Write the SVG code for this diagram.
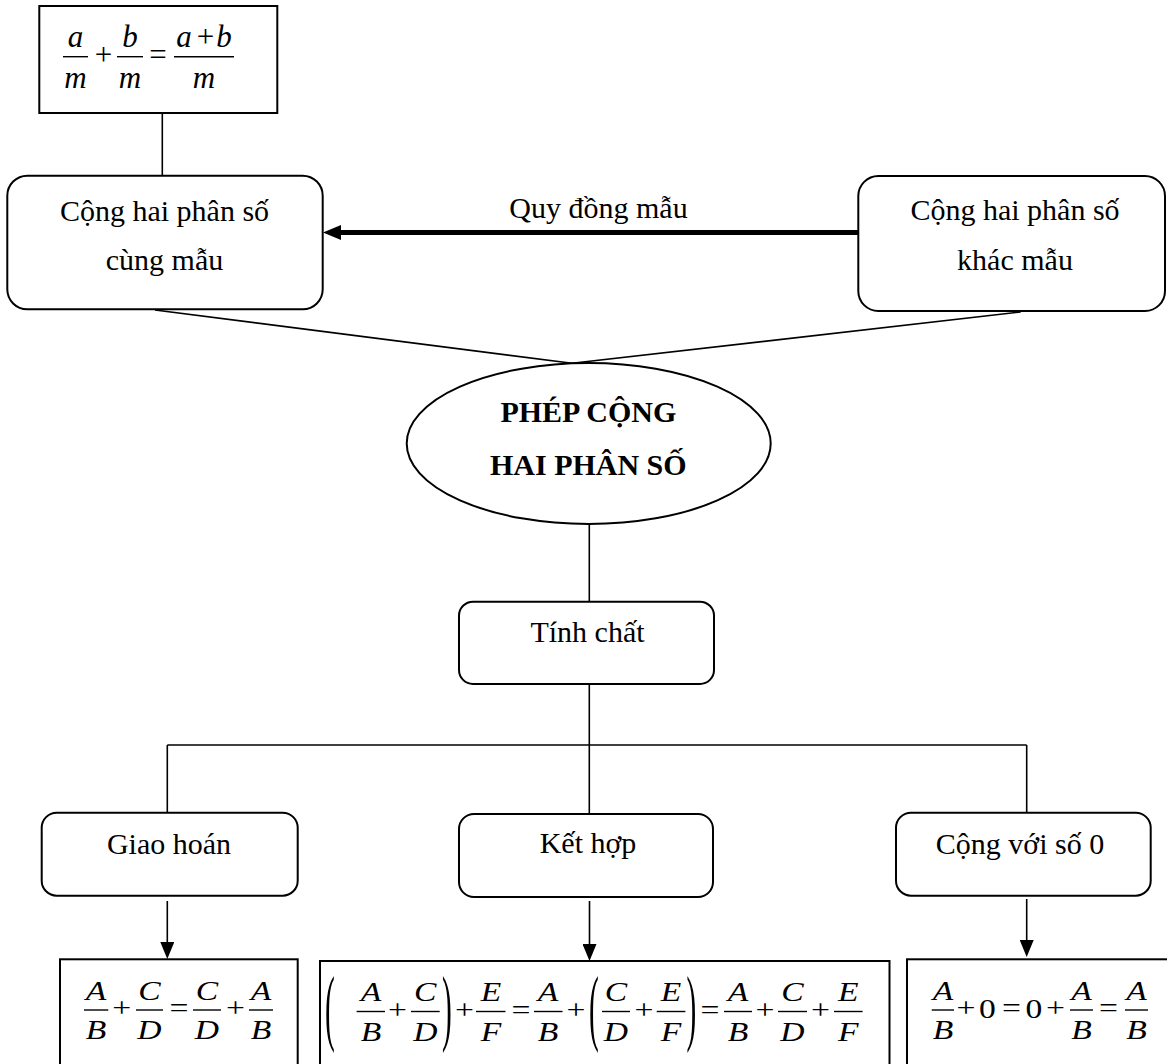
<svg xmlns="http://www.w3.org/2000/svg" width="1167" height="1064" viewBox="0 0 1167 1064">
<style>
.box{fill:#fff;stroke:#000;stroke-width:2}
.conn{stroke:#000;stroke-width:1.6;fill:none}
.t{font-family:"Liberation Serif","Times New Roman",serif;font-size:30px;text-anchor:middle;fill:#000}
.b{font-weight:bold}
.mi{font-family:"Liberation Serif","Times New Roman",serif;font-style:italic;font-size:28px;text-anchor:middle;fill:#000}
.mo{font-family:"Liberation Serif","Times New Roman",serif;font-size:28px;text-anchor:middle;fill:#000}
.top .mi,.top .mo{font-size:31px}
.par{font-family:"Liberation Serif","Times New Roman",serif;font-size:84px;text-anchor:middle;fill:#000}
.bar{stroke:#000;stroke-width:1.4}
</style>
<defs>
<marker id="thick" markerUnits="userSpaceOnUse" markerWidth="18" markerHeight="15" viewBox="0 0 18 15" refX="5" refY="7.5" orient="auto"><path d="M0,0 L18,7.5 L0,15 z" fill="#000"/></marker>
<marker id="ah" markerUnits="userSpaceOnUse" markerWidth="17" markerHeight="14" viewBox="0 0 17 14" refX="3" refY="7" orient="auto"><path d="M0,0 L17,7 L0,14 z" fill="#000"/></marker>
</defs>
<rect width="1167" height="1064" fill="#fff"/>

<g id="connectors">
<line class="conn" x1="162.3" y1="113" x2="162.3" y2="176"/>
<line stroke="#000" stroke-width="5" x1="858" y1="232.5" x2="336" y2="232.5" marker-end="url(#thick)"/>
<line class="conn" x1="155" y1="310" x2="572" y2="363.3"/>
<line class="conn" x1="1020.7" y1="312" x2="572" y2="363.3"/>
<line class="conn" x1="589.3" y1="524" x2="589.3" y2="601.7"/>
<line class="conn" x1="589.3" y1="684" x2="589.3" y2="814"/>
<line class="conn" x1="167.3" y1="745" x2="1026.7" y2="745"/>
<line class="conn" x1="167.3" y1="745" x2="167.3" y2="812.7"/>
<line class="conn" x1="1026.7" y1="745" x2="1026.7" y2="812.7"/>
<line class="conn" x1="167.3" y1="901" x2="167.3" y2="945" marker-end="url(#ah)"/>
<line class="conn" x1="589.5" y1="901" x2="589.5" y2="947" marker-end="url(#ah)"/>
<line class="conn" x1="1026.7" y1="899" x2="1026.7" y2="943" marker-end="url(#ah)"/>
<text class="t" x="598.5" y="218.3">Quy đồng mẫu</text>
</g>

<g id="formula-top" class="top">
<rect class="box" x="39.3" y="6" width="238" height="107"/>
<line class="bar" x1="63" y1="56.7" x2="88" y2="56.7"/>
<text class="mi" x="75.5" y="46.5">a</text>
<text class="mi" x="75.5" y="88.3">m</text>
<text class="mo" x="103.5" y="65">+</text>
<line class="bar" x1="117" y1="56.7" x2="143" y2="56.7"/>
<text class="mi" x="130" y="46.5">b</text>
<text class="mi" x="130" y="88.3">m</text>
<text class="mo" x="158" y="65">=</text>
<line class="bar" x1="174" y1="56.7" x2="234" y2="56.7"/>
<text class="mi" x="184" y="46.5">a</text>
<text class="mo" x="205.5" y="46.5">+</text>
<text class="mi" x="224" y="46.5">b</text>
<text class="mi" x="204" y="88.3">m</text>
</g>

<g id="cong-cung-mau">
<rect class="box" x="7.3" y="175.7" width="315.4" height="133.6" rx="20"/>
<text class="t" x="164.5" y="221">Cộng hai phân số</text>
<text class="t" x="164.5" y="270">cùng mẫu</text>
</g>

<g id="cong-khac-mau">
<rect class="box" x="858.3" y="176" width="306.7" height="135" rx="20"/>
<text class="t" x="1015" y="220">Cộng hai phân số</text>
<text class="t" x="1015" y="270">khác mẫu</text>
</g>

<g id="phep-cong">
<ellipse class="box" cx="588.7" cy="443.5" rx="182" ry="80.5"/>
<text class="t b" x="588.3" y="421.7">PHÉP CỘNG</text>
<text class="t b" x="588.3" y="475">HAI PHÂN SỐ</text>
</g>

<g id="tinh-chat">
<rect class="box" x="459" y="601.7" width="255" height="82.3" rx="14"/>
<text class="t" x="587.5" y="641.7">Tính chất</text>
</g>

<g id="giao-hoan">
<rect class="box" x="41.7" y="812.7" width="256" height="83" rx="15"/>
<text class="t" x="169" y="854">Giao hoán</text>
</g>

<g id="ket-hop">
<rect class="box" x="459" y="814" width="254" height="83" rx="15"/>
<text class="t" x="588" y="853">Kết hợp</text>
</g>

<g id="cong-voi-0">
<rect class="box" x="896" y="812.7" width="254.7" height="83" rx="15"/>
<text class="t" x="1020" y="854">Cộng với số 0</text>
</g>

<g id="formula-giao-hoan">
<rect class="box" x="60" y="959.3" width="237.7" height="130"/>
<line class="bar" x1="84" y1="1010" x2="108.3" y2="1010"/>
<line class="bar" x1="136" y1="1010" x2="163" y2="1010"/>
<line class="bar" x1="193" y1="1010" x2="221" y2="1010"/>
<line class="bar" x1="249" y1="1010" x2="273" y2="1010"/>
<g transform="scale(1.2,1)">
<text class="mi" x="80" y="1000">A</text>
<text class="mi" x="80" y="1039.5">B</text>
<text class="mo" x="101.42" y="1017.5">+</text>
<text class="mi" x="124.58" y="1000">C</text>
<text class="mi" x="124.58" y="1039.5">D</text>
<text class="mo" x="149.17" y="1017.5">=</text>
<text class="mi" x="172.5" y="1000">C</text>
<text class="mi" x="172.5" y="1039.5">D</text>
<text class="mo" x="196.25" y="1017.5">+</text>
<text class="mi" x="217.5" y="1000">A</text>
<text class="mi" x="217.5" y="1039.5">B</text>
</g>
</g>

<g id="formula-ket-hop">
<rect class="box" x="320" y="961" width="569.5" height="130"/>
<text class="par" transform="translate(330,1035.3) scale(0.35,1)">(</text>
<text class="par" transform="translate(447,1035.3) scale(0.35,1)">)</text>
<text class="par" transform="translate(594,1035.3) scale(0.35,1)">(</text>
<text class="par" transform="translate(691.5,1035.3) scale(0.35,1)">)</text>
<line class="bar" x1="356.6" y1="1011.5" x2="385" y2="1011.5"/>
<line class="bar" x1="411" y1="1011.5" x2="439.7" y2="1011.5"/>
<line class="bar" x1="476" y1="1011.5" x2="505.5" y2="1011.5"/>
<line class="bar" x1="534" y1="1011.5" x2="562.5" y2="1011.5"/>
<line class="bar" x1="602" y1="1011.5" x2="630" y2="1011.5"/>
<line class="bar" x1="656.7" y1="1011.5" x2="685.4" y2="1011.5"/>
<line class="bar" x1="724" y1="1011.5" x2="752" y2="1011.5"/>
<line class="bar" x1="778" y1="1011.5" x2="807" y2="1011.5"/>
<line class="bar" x1="834" y1="1011.5" x2="862.6" y2="1011.5"/>
<g transform="scale(1.2,1)">
<text class="mi" x="309.17" y="1001.5">A</text>
<text class="mi" x="309.17" y="1041.5">B</text>
<text class="mo" x="331.25" y="1019">+</text>
<text class="mi" x="354.42" y="1001.5">C</text>
<text class="mi" x="354.42" y="1041.5">D</text>
<text class="mo" x="387.08" y="1019">+</text>
<text class="mi" x="409.17" y="1001.5">E</text>
<text class="mi" x="409.17" y="1041.5">F</text>
<text class="mo" x="434.17" y="1019">=</text>
<text class="mi" x="456.67" y="1001.5">A</text>
<text class="mi" x="456.67" y="1041.5">B</text>
<text class="mo" x="480" y="1019">+</text>
<text class="mi" x="513.33" y="1001.5">C</text>
<text class="mi" x="513.33" y="1041.5">D</text>
<text class="mo" x="536.67" y="1019">+</text>
<text class="mi" x="559.17" y="1001.5">E</text>
<text class="mi" x="559.17" y="1041.5">F</text>
<text class="mo" x="591.67" y="1019">=</text>
<text class="mi" x="615" y="1001.5">A</text>
<text class="mi" x="615" y="1041.5">B</text>
<text class="mo" x="637.5" y="1019">+</text>
<text class="mi" x="660.42" y="1001.5">C</text>
<text class="mi" x="660.42" y="1041.5">D</text>
<text class="mo" x="683.75" y="1019">+</text>
<text class="mi" x="706.92" y="1001.5">E</text>
<text class="mi" x="706.92" y="1041.5">F</text>
</g>
</g>

<g id="formula-cong-0">
<rect class="box" x="907" y="959.3" width="270" height="130"/>
<line class="bar" x1="931.7" y1="1010" x2="954" y2="1010"/>
<line class="bar" x1="1070" y1="1010" x2="1093" y2="1010"/>
<line class="bar" x1="1125" y1="1010" x2="1148" y2="1010"/>
<g transform="scale(1.2,1)">
<text class="mi" x="785.83" y="1000">A</text>
<text class="mi" x="785.83" y="1039.5">B</text>
<text class="mo" x="805" y="1017.5">+</text>
<text class="mo" x="822.92" y="1018">0</text>
<text class="mo" x="842.92" y="1017.5">=</text>
<text class="mo" x="861.67" y="1018">0</text>
<text class="mo" x="879.58" y="1017.5">+</text>
<text class="mi" x="901.25" y="1000">A</text>
<text class="mi" x="901.25" y="1039.5">B</text>
<text class="mo" x="923.75" y="1017.5">=</text>
<text class="mi" x="947.08" y="1000">A</text>
<text class="mi" x="947.08" y="1039.5">B</text>
</g>
</g>
</svg>
